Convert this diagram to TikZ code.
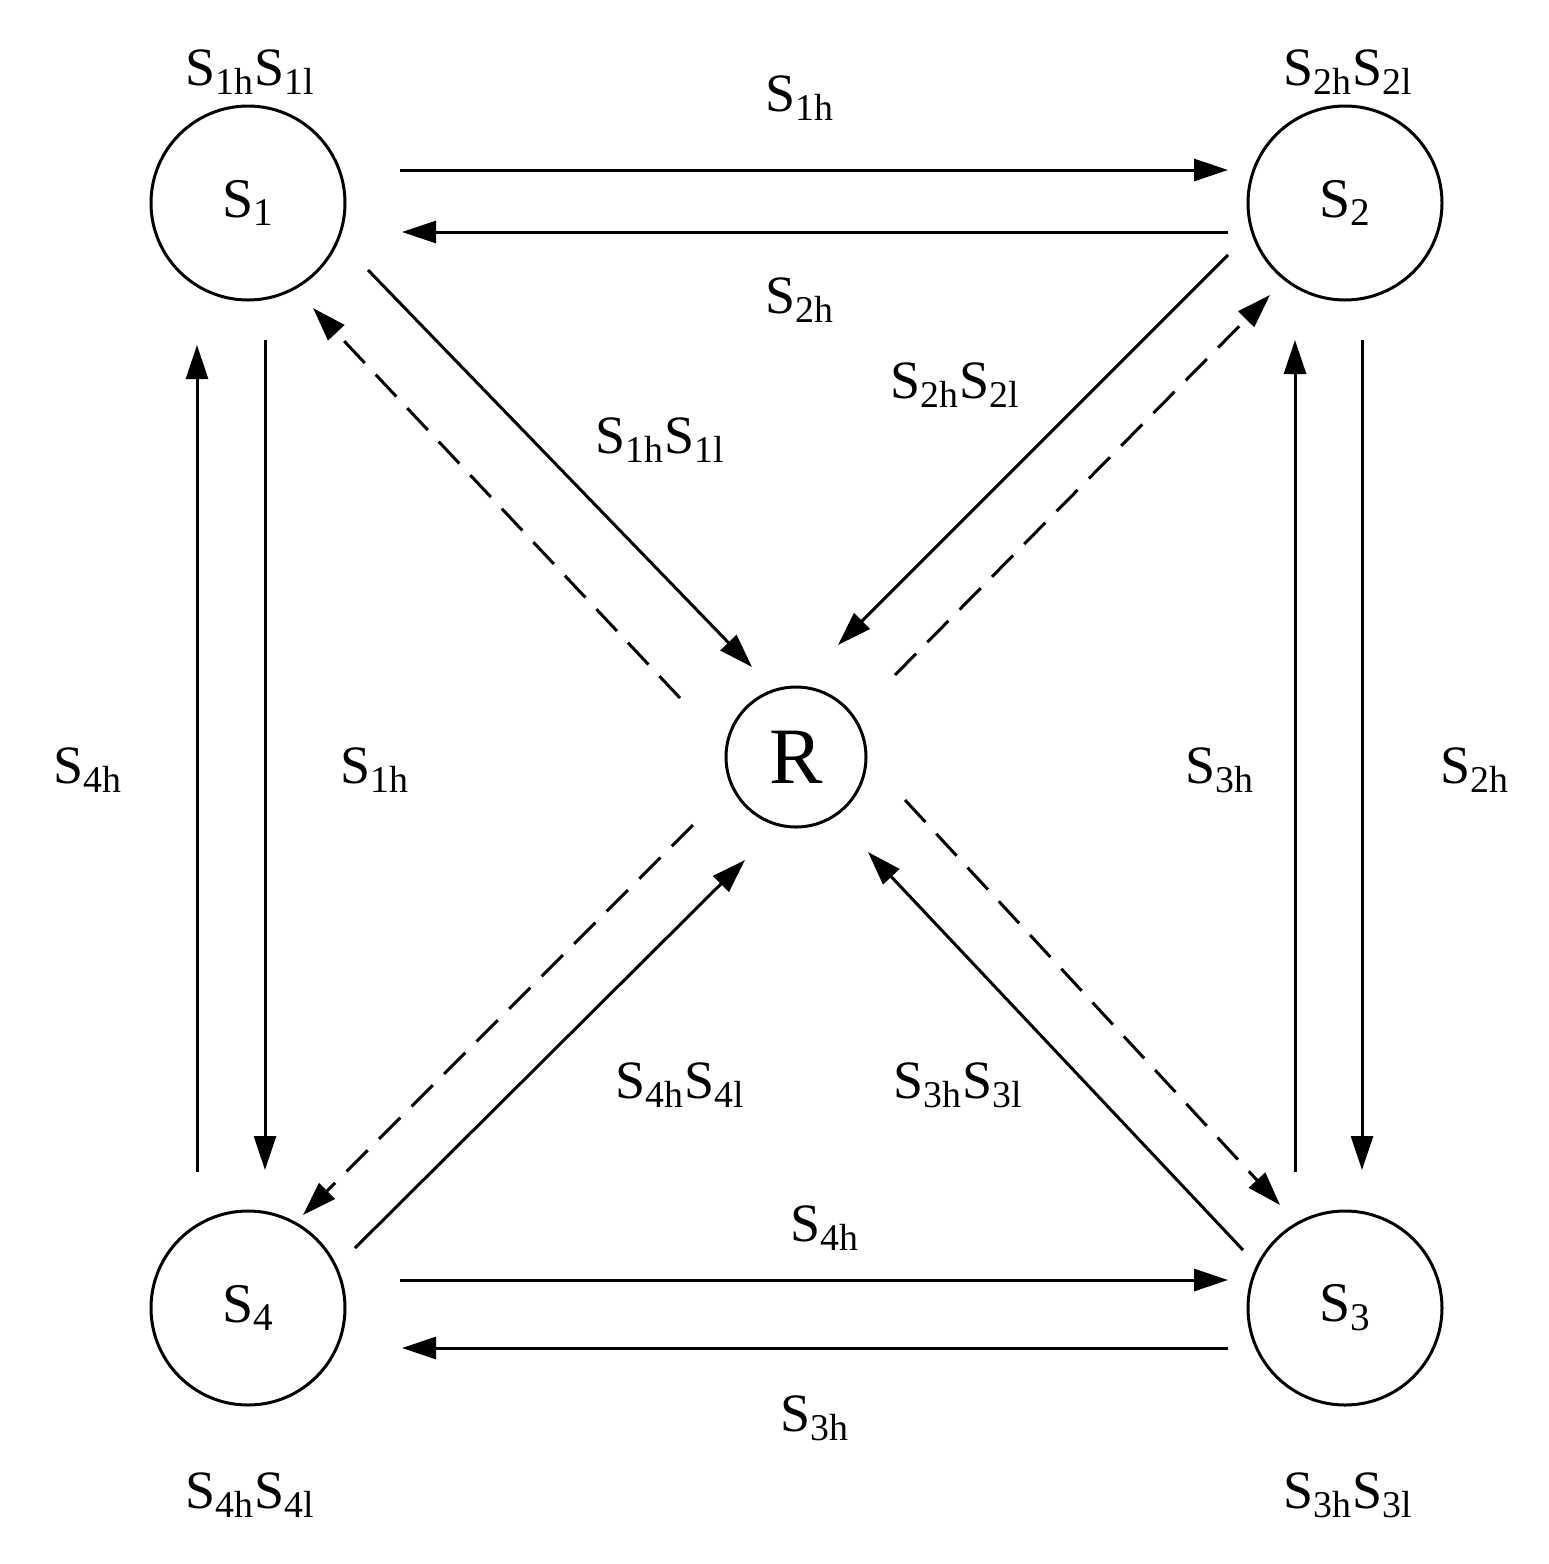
\documentclass[tikz,border=0pt]{standalone}
\usepackage{fontspec}
\setmainfont{Liberation Serif}
\usetikzlibrary{arrows.meta}
\newcommand\Ss[1]{S\textsubscript{#1}}
\begin{document}
\begin{tikzpicture}[x=0.5pt,y=-0.5pt,
  st/.style={circle,draw,line width=1.5pt,minimum size=97pt,inner sep=0pt,font=\fontsize{28}{30}\selectfont},
  ar/.style={line width=1.5pt,-{Triangle[length=17pt,width=11pt]}},
  da/.style={ar,dash pattern=on 15pt off 8pt},
  lb/.style={font=\fontsize{27}{30}\selectfont}]
\useasboundingbox (0,0) rectangle (1548,1564);
\node[st] (s1) at (248,203) {\Ss{1}};
\node[st] (s2) at (1345,203) {\Ss{2}};
\node[st] (s3) at (1345,1308) {\Ss{3}};
\node[st] (s4) at (248,1308) {\Ss{4}};
\node[st,minimum size=70pt,font=\fontsize{40}{42}\selectfont] (r) at (796,757) {R};
% horizontal/vertical
\coordinate (a1) at (400,170); \coordinate (a2) at (1228,170);
\coordinate (b1) at (1228,232); \coordinate (b2) at (402,232);
\coordinate (c1) at (265,340); \coordinate (c2) at (265,1170);
\coordinate (d1) at (197,1172); \coordinate (d2) at (197,345);
\coordinate (e1) at (1362,340); \coordinate (e2) at (1362,1170);
\coordinate (f1) at (1295,1172); \coordinate (f2) at (1295,340);
\coordinate (g1) at (400,1280); \coordinate (g2) at (1228,1280);
\coordinate (h1) at (1228,1348); \coordinate (h2) at (402,1348);
\draw[ar] (a1) -- (a2); \draw[ar] (b1) -- (b2);
\draw[ar] (c1) -- (c2); \draw[ar] (d1) -- (d2);
\draw[ar] (e1) -- (e2); \draw[ar] (f1) -- (f2);
\draw[ar] (g1) -- (g2); \draw[ar] (h1) -- (h2);
% diagonals
\coordinate (i1) at (368,270); \coordinate (i2) at (752,667);
\coordinate (j1) at (680,698); \coordinate (j2) at (313,308);
\coordinate (k1) at (1228,255); \coordinate (k2) at (838,645);
\coordinate (l1) at (895,675); \coordinate (l2) at (1270,295);
\coordinate (m1) at (693,825); \coordinate (m2) at (303,1215);
\coordinate (n1) at (355,1248); \coordinate (n2) at (745,860);
\coordinate (o1) at (905,800); \coordinate (o2) at (1280,1205);
\coordinate (p1) at (1243,1250); \coordinate (p2) at (868,852);
\draw[ar] (i1) -- (i2); \draw[da] (j1) -- (j2);
\draw[ar] (k1) -- (k2); \draw[da] (l1) -- (l2);
\draw[da] (m1) -- (m2); \draw[ar] (n1) -- (n2);
\draw[da] (o1) -- (o2); \draw[ar] (p1) -- (p2);
% labels
\node[lb] (t1) at (250,72) {\Ss{1h}\Ss{1l}};
\node[lb] (t2) at (800,98) {\Ss{1h}};
\node[lb] (t3) at (800,300) {\Ss{2h}};
\node[lb] (t4) at (1348,72) {\Ss{2h}\Ss{2l}};
\node[lb] (t5) at (955,385) {\Ss{2h}\Ss{2l}};
\node[lb] (t6) at (660,440) {\Ss{1h}\Ss{1l}};
\node[lb] (t7) at (88,770) {\Ss{4h}};
\node[lb] (t8) at (375,770) {\Ss{1h}};
\node[lb] (t9) at (1220,770) {\Ss{3h}};
\node[lb] (t10) at (1475,770) {\Ss{2h}};
\node[lb] (t11) at (680,1085) {\Ss{4h}\Ss{4l}};
\node[lb] (t12) at (958,1085) {\Ss{3h}\Ss{3l}};
\node[lb] (t13) at (825,1228) {\Ss{4h}};
\node[lb] (t14) at (815,1418) {\Ss{3h}};
\node[lb] (t15) at (250,1495) {\Ss{4h}\Ss{4l}};
\node[lb] (t16) at (1348,1495) {\Ss{3h}\Ss{3l}};
\end{tikzpicture}
\end{document}
